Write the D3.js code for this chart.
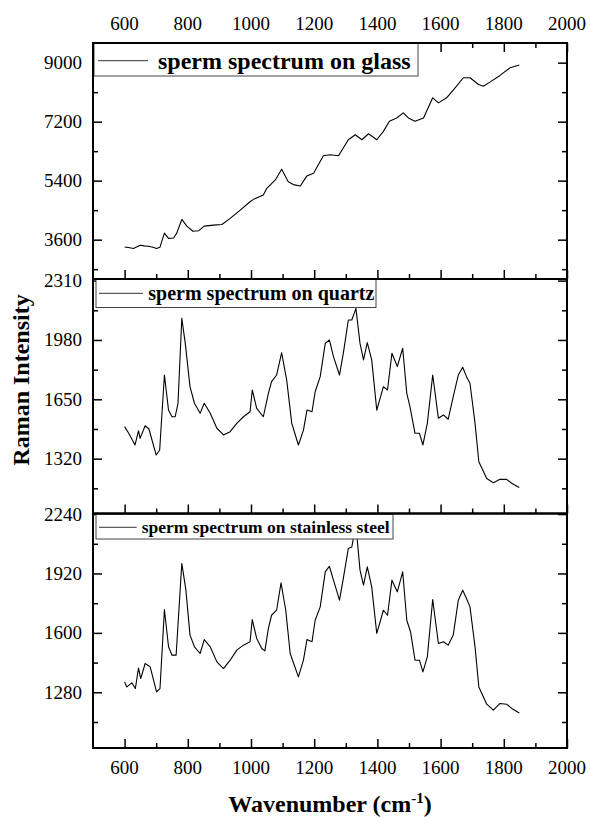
<!DOCTYPE html>
<html>
<head>
<meta charset="utf-8">
<script src="https://cdn.jsdelivr.net/npm/d3@7"></script>
<style>
  body { margin: 0; background: #fff; }
</style>
</head>
<body>
<div id="chart"></div>
<script>
// data

var xTicks = [600, 800, 1000, 1200, 1400, 1600, 1800, 2000]
var xMinor = [700, 900, 1100, 1300, 1500, 1700, 1900]

var glassTicks = [3600, 5400, 7200, 9000]
var glassMinor = [2700, 4500, 6300, 8100]
var quartzTicks = [1320, 1650, 1980, 2310]
var quartzMinor = [1155, 1485, 1815, 2145]
var steelTicks = [1280, 1600, 1920, 2240]
var steelMinor = [1120, 1440, 1760, 2080]

var glassWn = [600, 612, 628, 649, 662, 675, 690, 701, 712, 726, 739, 755, 765, 781, 797, 816, 834, 852, 881, 908, 934, 966, 997, 1008, 1039, 1050, 1077, 1097, 1118, 1134, 1156, 1177, 1198, 1229, 1250, 1277, 1308, 1330, 1351, 1372, 1398, 1419, 1438, 1461, 1482, 1498, 1519, 1546, 1575, 1593, 1619, 1646, 1672, 1693, 1720, 1735, 1756, 1788, 1820, 1849]
var glassInt = [3377, 3360, 3330, 3430, 3410, 3400, 3370, 3330, 3370, 3800, 3640, 3650, 3800, 4217, 4012, 3858, 3870, 4012, 4043, 4063, 4248, 4502, 4757, 4830, 4962, 5167, 5422, 5750, 5370, 5280, 5238, 5545, 5627, 6158, 6189, 6158, 6648, 6801, 6648, 6832, 6648, 6903, 7210, 7313, 7467, 7313, 7210, 7313, 7927, 7774, 7927, 8233, 8540, 8540, 8335, 8283, 8406, 8611, 8847, 8927]

var quartzWn = [600, 613, 633, 644, 649, 665, 677, 700, 711, 726, 739, 750, 760, 769, 781, 792, 807, 821, 839, 852, 871, 892, 913, 934, 955, 976, 997, 1004, 1018, 1039, 1055, 1065, 1081, 1097, 1113, 1129, 1150, 1166, 1177, 1193, 1203, 1219, 1235, 1248, 1261, 1280, 1293, 1308, 1319, 1332, 1345, 1356, 1368, 1382, 1398, 1419, 1432, 1446, 1463, 1480, 1493, 1503, 1519, 1533, 1544, 1558, 1575, 1593, 1609, 1624, 1640, 1656, 1670, 1682, 1693, 1709, 1721, 1746, 1767, 1788, 1809, 1825, 1849]
var quartzInt = [1498, 1461, 1396, 1475, 1433, 1503, 1485, 1340, 1368, 1785, 1590, 1553, 1553, 1628, 2101, 1961, 1720, 1628, 1572, 1628, 1572, 1489, 1452, 1470, 1516, 1553, 1581, 1702, 1600, 1553, 1683, 1748, 1785, 1909, 1757, 1516, 1396, 1479, 1590, 1581, 1692, 1776, 1961, 1980, 1887, 1785, 1915, 2091, 2091, 2156, 1961, 1869, 1965, 1869, 1590, 1720, 1702, 1906, 1832, 1934, 1683, 1609, 1461, 1461, 1396, 1516, 1785, 1545, 1563, 1539, 1665, 1785, 1828, 1776, 1739, 1516, 1303, 1210, 1186, 1205, 1205, 1183, 1160]

var steelWn = [600, 607, 623, 634, 644, 651, 665, 681, 701, 712, 726, 739, 750, 763, 781, 794, 807, 821, 839, 852, 871, 892, 913, 934, 955, 976, 997, 1004, 1018, 1034, 1044, 1055, 1065, 1081, 1095, 1110, 1124, 1150, 1166, 1177, 1193, 1203, 1219, 1235, 1248, 1261, 1280, 1293, 1308, 1319, 1332, 1345, 1356, 1368, 1382, 1398, 1419, 1432, 1446, 1463, 1480, 1493, 1505, 1519, 1533, 1544, 1558, 1575, 1593, 1609, 1624, 1640, 1656, 1670, 1682, 1693, 1709, 1721, 1746, 1767, 1788, 1809, 1825, 1849]
var steelInt = [1336, 1309, 1331, 1300, 1411, 1354, 1435, 1417, 1282, 1300, 1726, 1525, 1480, 1480, 1974, 1830, 1588, 1525, 1489, 1564, 1525, 1444, 1408, 1453, 1507, 1534, 1552, 1672, 1570, 1516, 1503, 1624, 1695, 1722, 1869, 1722, 1489, 1363, 1453, 1564, 1552, 1668, 1740, 1929, 1959, 1884, 1776, 1902, 2055, 2063, 2180, 1938, 1857, 1956, 1848, 1597, 1722, 1695, 1884, 1821, 1929, 1668, 1605, 1453, 1453, 1390, 1471, 1780, 1543, 1552, 1534, 1588, 1776, 1830, 1785, 1740, 1525, 1309, 1216, 1184, 1220, 1216, 1193, 1169]

// page layout
var width = 590
var height = 817
var left = 93
var right = 567

var svg = d3.select('#chart')
  .append('svg')
  .attr('width', width)
  .attr('height', height)
  .attr('font-family', 'Liberation Serif, DejaVu Serif, serif')

var xPositionScale = d3.scaleLinear().domain([500, 2000]).range([left, right])

var panels = [
  { wn: glassWn, vals: glassInt, ticks: glassTicks, minor: glassMinor, domain: [2400, 9600], top: 43, bottom: 279,
    label: 'sperm spectrum on glass', box: [94, 43, 324, 33], sample: [98, 148, 60.7], textX: 158, textY: 68.5, size: 24 },
  { wn: quartzWn, vals: quartzInt, ticks: quartzTicks, minor: quartzMinor, domain: [1015, 2319], top: 279, bottom: 513.5,
    label: 'sperm spectrum on quartz', box: [96, 279, 280, 28.5], sample: [99, 143, 293.3], textX: 148.3, textY: 300, size: 20 },
  { wn: steelWn, vals: steelInt, ticks: steelTicks, minor: steelMinor, domain: [980, 2243], top: 513.5, bottom: 748,
    label: 'sperm spectrum on stainless steel', box: [96, 514.5, 297, 24.5], sample: [99, 136.7, 527.3], textX: 141.7, textY: 532.7, size: 17.5 }
]

panels.forEach(function(p, i) {
  var yPositionScale = d3.scaleLinear().domain(p.domain).range([p.bottom, p.top])
  var g = svg.append('g')

  var points = p.wn.map(function(w, j) {
    return { wn: w, val: p.vals[j] }
  })

  var line = d3.line()
    .x(function(d) { return xPositionScale(d.wn) })
    .y(function(d) { return yPositionScale(d.val) })

  g.append('path')
    .datum(points)
    .attr('d', line)
    .attr('fill', 'none')
    .attr('stroke', '#000')
    .attr('stroke-width', 1.1)
    .attr('stroke-linejoin', 'round')

  // inner ticks: left, right, bottom (and top for the first panel)
  var yLeft = d3.axisRight(yPositionScale).tickValues(p.ticks).tickSize(9).tickFormat('')
  var yLeftMinor = d3.axisRight(yPositionScale).tickValues(p.minor).tickSize(5).tickFormat('')
  var yRight = d3.axisLeft(yPositionScale).tickValues(p.ticks).tickSize(9).tickFormat('')
  var yRightMinor = d3.axisLeft(yPositionScale).tickValues(p.minor).tickSize(5).tickFormat('')

  g.append('g').attr('class', 'axis').attr('transform', 'translate(' + left + ',0)').call(yLeft)
  g.append('g').attr('class', 'axis').attr('transform', 'translate(' + left + ',0)').call(yLeftMinor)
  g.append('g').attr('class', 'axis').attr('transform', 'translate(' + right + ',0)').call(yRight)
  g.append('g').attr('class', 'axis').attr('transform', 'translate(' + right + ',0)').call(yRightMinor)

  var xBottom = d3.axisTop(xPositionScale).tickValues(xTicks).tickSize(9).tickFormat('')
  var xBottomMinor = d3.axisTop(xPositionScale).tickValues(xMinor).tickSize(5).tickFormat('')
  g.append('g').attr('class', 'axis').attr('transform', 'translate(0,' + p.bottom + ')').call(xBottom)
  g.append('g').attr('class', 'axis').attr('transform', 'translate(0,' + p.bottom + ')').call(xBottomMinor)

  if (i === 0) {
    var xTop = d3.axisBottom(xPositionScale).tickValues(xTicks).tickSize(9).tickFormat('')
    var xTopMinor = d3.axisBottom(xPositionScale).tickValues(xMinor).tickSize(5).tickFormat('')
    g.append('g').attr('class', 'axis').attr('transform', 'translate(0,' + p.top + ')').call(xTop)
    g.append('g').attr('class', 'axis').attr('transform', 'translate(0,' + p.top + ')').call(xTopMinor)
  }

  // tick labels on the left
  g.selectAll('.ylabel')
    .data(p.ticks)
    .enter()
    .append('text')
    .attr('x', 82)
    .attr('y', function(d) { return yPositionScale(d) })
    .attr('dy', '0.34em')
    .attr('text-anchor', 'end')
    .attr('font-size', 19)
    .text(function(d) { return d })

  // legend box
  g.append('rect')
    .attr('x', p.box[0])
    .attr('y', p.box[1])
    .attr('width', p.box[2])
    .attr('height', p.box[3])
    .attr('fill', '#fff')
    .attr('stroke', '#444')
    .attr('stroke-width', 1)

  g.append('line')
    .attr('x1', p.sample[0])
    .attr('x2', p.sample[1])
    .attr('y1', p.sample[2])
    .attr('y2', p.sample[2])
    .attr('stroke', '#333')
    .attr('stroke-width', 1)

  g.append('text')
    .attr('x', p.textX)
    .attr('y', p.textY)
    .attr('font-size', p.size)
    .attr('font-weight', 'bold')
    .text(p.label)

  // frame
  g.append('rect')
    .attr('x', left)
    .attr('y', p.top)
    .attr('width', right - left)
    .attr('height', p.bottom - p.top)
    .attr('fill', 'none')
    .attr('stroke', '#000')
    .attr('stroke-width', 2)
})

svg.selectAll('.axis path').remove()
svg.selectAll('.axis line').attr('stroke', '#000').attr('stroke-width', 1.5)

// x labels top and bottom
svg.selectAll('.xtop')
  .data(xTicks)
  .enter()
  .append('text')
  .attr('x', function(d) { return xPositionScale(d) })
  .attr('y', 30)
  .attr('text-anchor', 'middle')
  .attr('font-size', 19)
  .text(function(d) { return d })

svg.selectAll('.xbottom')
  .data(xTicks)
  .enter()
  .append('text')
  .attr('x', function(d) { return xPositionScale(d) })
  .attr('y', 774)
  .attr('text-anchor', 'middle')
  .attr('font-size', 19)
  .text(function(d) { return d })

// axis titles
var xTitle = svg.append('text')
  .attr('x', (left + right) / 2)
  .attr('y', 811.5)
  .attr('text-anchor', 'middle')
  .attr('font-size', 24)
  .attr('font-weight', 'bold')
xTitle.append('tspan').text('Wavenumber (cm')
xTitle.append('tspan').attr('font-size', 15).attr('dy', -9).text('-1')
xTitle.append('tspan').attr('dy', 9).text(')')

svg.append('text')
  .attr('transform', 'translate(29,380) rotate(-90)')
  .attr('text-anchor', 'middle')
  .attr('font-size', 24)
  .attr('font-weight', 'bold')
  .text('Raman Intensity')
</script>
</body>
</html>
